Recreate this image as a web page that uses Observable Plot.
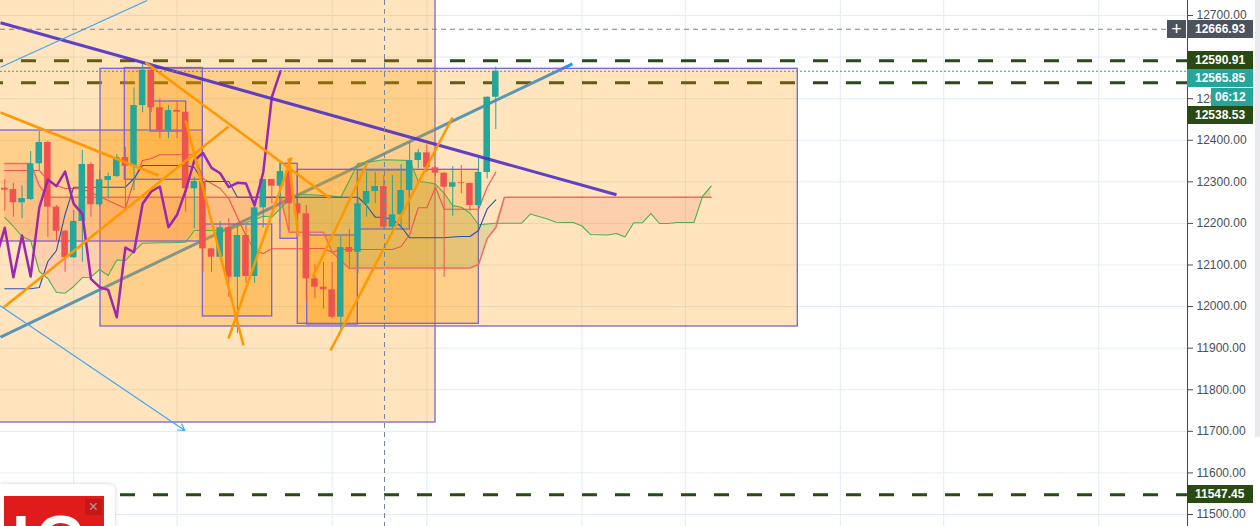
<!DOCTYPE html>
<html><head><meta charset="utf-8">
<script src="https://cdn.jsdelivr.net/npm/d3@7"></script>
<script src="https://cdn.jsdelivr.net/npm/@observablehq/plot@0.6"></script>
<style>
html,body{margin:0;padding:0;background:#fff;overflow:hidden;}
#wrap{position:relative;width:1260px;height:526px;overflow:hidden;font-family:"Liberation Sans",Arial,sans-serif;}
.tag{position:absolute;height:18px;line-height:18px;color:#fff;font-size:12px;box-sizing:border-box;white-space:nowrap;}
</style></head><body><div id="wrap"></div>
<script>
// ---- candles (bar index 0..57) ----
const openP = [12284.7,12281.5,12249.5,12257.5,12343.3,12394.6,12239,12181.2,12117.3,12204.6,12341.7,12244.7,12303.2,12312.8,12358.5,12337.6,12483.5,12568.4,12478,12423.4,12471.5,12467.4,12283.2,12300.8,12138.9,12118.7,12189.4,12070.6,12170.9,12072.3,12237.5,12305.6,12289.5,12324.8,12247.1,12223.1,12066.8,12046.6,12040.3,11974.4,12142,12130.7,12247.1,12276.7,12288.7,12190.9,12220.7,12279.1,12351.3,12369.8,12333.7,12320.7,12287.1,12297.6,12296,12243,12322.4,12503.5];
const highP = [12304.9,12296,12291,12372.9,12421,12397.7,12243,12183,12231,12375.3,12345.7,12327,12320.7,12365.7,12383.3,12526.1,12587.7,12573,12499.7,12483.5,12495.6,12469,12311,12302,12139,12204.6,12211,12199.8,12195,12255,12306,12306,12343.3,12344,12247.5,12243,12100,12106,12106,12169,12185.3,12263,12323,12323,12315,12315,12341.7,12395.3,12377.7,12389,12336,12322,12336.8,12339.3,12297,12356.8,12504,12575.7];
const lowP = [12229.3,12214.9,12211.8,12255,12327.2,12166.8,12157.2,12082.6,12117,12106.7,12214.9,12240,12259.2,12310,12239,12279.1,12466,12467,12403.5,12404,12403.5,12226.9,12187,12082.6,12082.6,12117,12022.5,11935,12055.5,12056,12189.4,12247.1,12259.2,12182.9,12183,12010,12018.7,11994,11970.6,11942.4,12090.8,12078.8,12214.9,12247,12183,12183,12183,12279,12331.3,12323,12312.8,12070.6,12217.3,12271.2,12229.3,12243,12307.3,12425.8];
const closeP = [12279.9,12249.5,12259.9,12343.3,12394.6,12239,12181.2,12117.3,12204.6,12341.7,12244.7,12304.9,12312.8,12358.5,12337.6,12483.5,12568.4,12478,12423.4,12471.5,12467.4,12283.2,12300.8,12138.9,12118.7,12189.4,12070.6,12170.9,12072.3,12237.5,12305.6,12289.5,12324.8,12247.1,12223.1,12066.8,12046.6,12040.3,11974.4,12142,12130.7,12247.1,12276.7,12288.7,12190.9,12220.7,12279.1,12351.3,12369.8,12333.7,12320.7,12287.1,12297.6,12296,12243,12322.4,12503.5,12565.85];

// ---- Ichimoku ----
const tenkan = [12042.8,12042.8,12042.8,12042.8,12045.9,12108.4,12134.9,12221.5,12287.1,12287.1,12287.1,12287.1,12287.1,12287.1,12287.1,12308.0,12339.3,12339.3,12339.3,12339.3,12339.3,12339.3,12334.5,12300.8,12300.8,12300.8,12300.8,12263.1,12263.1,12263.1,12263.1,12263.1,12263.1,12263.1,12263.1,12263.1,12263.1,12263.1,12263.1,12263.1,12263.1,12263.1,12243.1,12215.0,12215.0,12209.4,12192.6,12165.4,12165.4,12165.4,12165.4,12165.4,12167.3,12168.5,12168.5,12183.0,12234.7,12256.8];
const kijun = [12327.3,12327.3,12327.3,12327.3,12327.3,12303.2,12291.2,12284.0,12284.0,12282.8,12274.4,12264.7,12255.1,12245.5,12235.9,12303.2,12351.3,12356.1,12365.0,12365.0,12365.0,12365.0,12365.0,12308.0,12296.0,12284.0,12259.9,12214.2,12171.0,12134.9,12127.7,12139.0,12139.0,12139.0,12139.0,12139.0,12139.7,12139.7,12130.8,12137.3,12137.3,12137.3,12137.3,12137.3,12137.3,12137.3,12144.5,12173.3,12237.6,12237.6,12287.1,12234.2,12234.2,12234.2,12234.2,12234.2,12287.1,12323.2];
const senkouA = [12214.2,12192.6,12168.5,12158.9,12084.4,12067.5,12033.9,12032.2,12048.3,12069.9,12070.7,12089.2,12074.8,12112.0,12110.8,12132.5,12152.4,12152.9,12153.4,12153.6,12154.1,12154.8,12183.0,12183.0,12183.0,12183.0,12184.2,12192.6,12201.0,12209.4,12217.4,12215.4,12235.9,12257.5,12268.3,12269.5,12268.3,12267.1,12265.9,12263.1,12303.2,12344.1,12346.5,12350.1,12353.0,12352.5,12351.8,12351.3,12301.5,12298.4,12294.6,12272.9,12243.1,12238.8,12225.1,12196.7,12198.6,12200.5,12200.5,12200.5,12200.5,12222.6,12216.6,12210.6,12202.9,12202.2,12202.2,12193.8,12173.3,12172.6,12172.1,12175.7,12167.3,12201.5,12201.5,12223.8,12199.8,12199.8,12202.2,12202.2,12202.2,12264.8,12289.5];
const senkouB = [12344.1,12344.1,12344.1,12344.1,12291.2,12263.1,12263.1,12263.1,12263.1,12263.1,12263.1,12263.1,12263.1,12263.1,12263.1,12263.1,12263.1,12263.1,12263.1,12263.1,12263.1,12263.1,12263.1,12263.1,12263.1,12263.1,12263.1,12263.1,12263.1,12263.1,12263.1,12263.1,12263.1,12178.9,12178.9,12178.9,12178.9,12178.9,12130.8,12110.8,12091.6,12092.8,12092.8,12092.8,12092.8,12092.8,12092.8,12092.8,12092.8,12092.8,12092.8,12092.8,12092.8,12092.8,12092.8,12101.2,12163.7,12190.2,12263.1,12263.1,12263.1,12263.1,12263.1,12263.1,12263.1,12263.1,12263.1,12263.1,12263.1,12263.1,12263.1,12263.1,12263.1,12263.1,12263.1,12263.1,12263.1,12263.1,12263.1,12263.1,12263.1,12263.1,12263.1];
const lagShift = 25;

// ---- axis / grid ----
const priceTicks = [11500,11600,11700,11800,11900,12000,12100,12200,12300,12400,12500,12600,12700];
const gridX = [8,20,38,49,67,79,97,109,127];
const xDomain = [-0.5, 137.3];
const yDomain = [11471.1, 12736.1];

// ---- horizontal levels ----
const levelPrices = [12590.91, 12538.53, 11547.45];
const lastPrice = 12565.85;
const crossX = [44.08];
const crossY = [12666.93];

// ---- drawings (bar index / price) ----
const boxes = [
  {x1:-3, x2:50.0, top:12800, bottom:11721.2},
  {x1:11.11, x2:92.06, top:12571.8, bottom:11952.1},
  {x1:-3, x2:22.99, top:12423.4, bottom:12156.5},
  {x1:13.93, x2:22.99, top:12573.7, bottom:12304.9},
  {x1:16.91, x2:21.06, top:12493.2, bottom:12421.0},
  {x1:22.99, x2:31.04, top:12197.4, bottom:11976.2},
  {x1:32.0, x2:34.01, top:12343.4, bottom:12163.0},
  {x1:34.01, x2:55.03, top:12328.9, bottom:11958.6},
  {x1:35.1, x2:40.98, top:12170.9, bottom:11956.9},
  {x1:40.98, x2:47.02, top:12327.3, bottom:12185.4}
];
const blueTrend = [{x1:-0.5, y1:11926.4, x2:65.9, y2:12583.9}];
const purpleTrend = [{x1:-0.5, y1:12682.5, x2:71.01, y2:12268.8}];
const thinBlue = [{x1:-0.5, y1:12575.7, x2:16.53, y2:12736.1}];
const blueArrow = [{x1:-0.5, y1:12001.4, x2:20.9, y2:11702.0}];
const orangeLines = [
  {x1:-0.5, y1:12466.7, x2:17.84, y2:12315.2},
  {x1:-0.15, y1:11997.8, x2:25.97, y2:12433.1},
  {x1:16.33, y1:12587.0, x2:37.81, y2:12259.9},
  {x1:20.98, y1:12447.5, x2:27.71, y2:11906.4},
  {x1:25.97, y1:11923.2, x2:33.28, y2:12358.5},
  {x1:37.81, y1:11894.4, x2:51.97, y2:12454.7},
  {x1:35.72, y1:12069.9, x2:42.11, y2:12346.5},
  {x1:32.93, y1:12356.1, x2:34.09, y2:12168.5}
];

// ---- price tags ----
const tagPrices = [12666.93, 12590.91, 12565.85, 12538.53, 11547.45];
const tagLabels = ["12666.93", "12590.91", "12565.85", "12538.53", "11547.45"];
const tagColors = ["#4c525e", "#294b13", "#26a69a", "#294b13", "#294b13"];
const countdown = "06:12";

const UP = "#26a69a", DOWN = "#ef5350";
const candles = openP.map((o, i) => ({i, o, h: highP[i], l: lowP[i], c: closeP[i]}));
const lag = closeP.map((c, i) => ({x: i - lagShift, c})).filter(d => d.x >= -1);
const cloud = senkouA.map((a, i) => ({i, a, b: senkouB[i]}));
const tk = tenkan.map((v, i) => ({i, v}));
const kj = kijun.map((v, i) => ({i, v}));

const chart = Plot.plot({
  width: 1260, height: 526,
  marginLeft: 0, marginRight: 73, marginTop: 0, marginBottom: 0,
  x: {domain: xDomain, axis: null},
  y: {domain: yDomain, axis: "right", ticks: priceTicks, tickFormat: ".2f", tickSize: 5, tickPadding: 4, label: null},
  style: {background: "#ffffff", fontFamily: "Liberation Sans, Arial, sans-serif", fontSize: "12px", color: "#4a4e59"},
  marks: [
    Plot.ruleY(priceTicks, {stroke: "#e1ecf2"}),
    Plot.ruleX(gridX, {stroke: "#e1ecf2"}),
    Plot.ruleY(levelPrices, {stroke: "#294b13", strokeWidth: 3, strokeDasharray: "15,18", strokeDashoffset: 12}),
    Plot.link(blueTrend, {x1: "x1", y1: "y1", x2: "x2", y2: "y2", stroke: "#2196f3", strokeWidth: 3, clip: true}),
    Plot.rect(boxes, {x1: "x1", x2: "x2", y1: "bottom", y2: "top", fill: "#ff9800", fillOpacity: 0.26, stroke: "#7a63d8", strokeWidth: 1.3, clip: true}),
    Plot.areaY(cloud, {x: "i", y1: "b", y2: d => Math.max(d.a, d.b), fill: "#8a9a30", fillOpacity: 0.22, clip: true}),
    Plot.areaY(cloud, {x: "i", y1: "a", y2: d => Math.max(d.a, d.b), fill: "#ef5350", fillOpacity: 0.14, clip: true}),
    Plot.line(cloud, {x: "i", y: "b", stroke: "#f06a66", strokeWidth: 1.5, clip: true}),
    Plot.line(cloud, {x: "i", y: "a", stroke: "#4caf50", strokeWidth: 1.1, clip: true}),
    Plot.line(kj, {x: "i", y: "v", stroke: "#ef5350", strokeWidth: 1.1, clip: true}),
    Plot.line(tk, {x: "i", y: "v", stroke: "#2c50b0", strokeWidth: 1.1, clip: true}),
    Plot.ruleX(candles, {x: "i", y1: "l", y2: "h", stroke: d => d.c >= d.o ? UP : DOWN, strokeWidth: 1}),
    Plot.rect(candles, {x1: d => d.i - 0.38, x2: d => d.i + 0.38, y1: "o", y2: "c", fill: d => d.c >= d.o ? UP : DOWN}),
    Plot.line(lag, {x: "x", y: "c", stroke: "#9c27b0", strokeWidth: 2.5, clip: true}),
    Plot.link(purpleTrend, {x1: "x1", y1: "y1", x2: "x2", y2: "y2", stroke: "#4f2fc4", strokeWidth: 3, strokeOpacity: 0.9, clip: true}),
    Plot.link(orangeLines, {x1: "x1", y1: "y1", x2: "x2", y2: "y2", stroke: "#ff9800", strokeWidth: 2.5, clip: true}),
    Plot.link(thinBlue, {x1: "x1", y1: "y1", x2: "x2", y2: "y2", stroke: "#42a5f5", strokeWidth: 1.2, clip: true}),
    Plot.arrow(blueArrow, {x1: "x1", y1: "y1", x2: "x2", y2: "y2", stroke: "#42a5f5", strokeWidth: 1.2, headLength: 9, clip: true}),
    Plot.ruleX(crossX, {stroke: "#758696", strokeDasharray: "5,4"}),
    Plot.ruleY(crossY, {stroke: "#758696", strokeDasharray: "5,4"}),
    Plot.ruleY([lastPrice], {stroke: "#26a69a", strokeDasharray: "2,2"}),
    Plot.ruleX([xDomain[1]], {stroke: "#434651"})
  ]
});

const wrap = document.getElementById("wrap");
wrap.appendChild(chart);

// overlays positioned through the same y mapping
const yPix = d3.scaleLinear(yDomain, [526, 0]);
function addDiv(css, text) {
  const d = document.createElement("div");
  d.className = "tag";
  Object.assign(d.style, css);
  if (text != null) d.textContent = text;
  wrap.appendChild(d);
  return d;
}
let prevBottom = -Infinity;
tagPrices.forEach((p, k) => {
  const top = Math.max(yPix(p) - 9, prevBottom);
  addDiv({left: "1187px", top: top + "px", width: "66px", background: tagColors[k], paddingLeft: "8px", fontWeight: "bold"}, tagLabels[k]);
  prevBottom = top + 18;
  if (k === 0) {
    addDiv({left: "1167px", top: top + "px", width: "19px", background: tagColors[k], textAlign: "center", fontSize: "18px", fontWeight: "300"}, "+");
  }
  if (p === lastPrice) {
    addDiv({left: "1211px", top: (prevBottom + 1) + "px", width: "42px", background: tagColors[k], paddingLeft: "4px", fontWeight: "bold"}, countdown);
    prevBottom += 19;
  }
});
// right edge strip
addDiv({left: "1255px", top: "0px", width: "5px", height: "437px", background: "#e9eaee"});

// bottom-left popup
const pop = document.createElement("div");
Object.assign(pop.style, {position: "absolute", left: "0px", top: "484px", width: "115px", height: "60px", background: "#fff", borderRadius: "0 6px 0 0", boxShadow: "0 0 4px rgba(0,0,0,0.18)"});
const red = document.createElement("div");
Object.assign(red.style, {position: "absolute", left: "4px", top: "12px", width: "100px", height: "50px", background: "#e01b1b", overflow: "hidden"});
const logo = document.createElement("div");
Object.assign(logo.style, {position: "absolute", left: "8px", top: "11px", color: "#fff", font: "bold 64px 'Liberation Sans', Arial, sans-serif", lineHeight: "64px", letterSpacing: "6px"});
logo.textContent = "IG";
const xbox = document.createElement("div");
Object.assign(xbox.style, {position: "absolute", left: "81px", top: "3px", width: "17px", height: "16px", background: "rgba(0,0,0,0.12)", color: "#a0a0a0", font: "16px 'Liberation Sans', Arial, sans-serif", lineHeight: "16px", textAlign: "center"});
xbox.textContent = "×";
red.appendChild(logo); red.appendChild(xbox); pop.appendChild(red); wrap.appendChild(pop);
</script></body></html>
